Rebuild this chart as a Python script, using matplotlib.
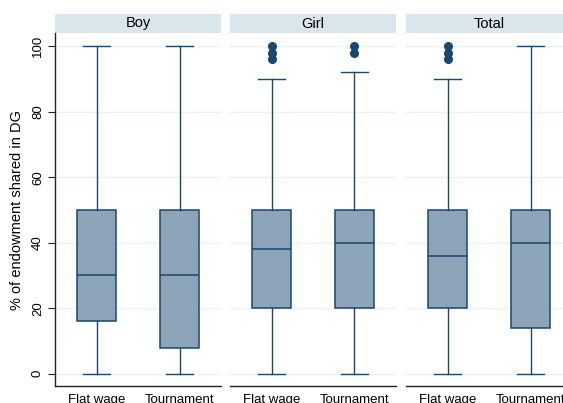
"""Boxplots of % of endowment shared in DG by gender and treatment."""

import matplotlib
matplotlib.use("Agg")
import matplotlib.pyplot as plt
from matplotlib.patches import Rectangle

plt.rcParams["font.family"] = ["Liberation Sans", "DejaVu Sans"]

panels = ["Boy", "Girl", "Total"]
treatments = ["Flat wage", "Tournament"]

# whisker low, q1, median, q3, whisker high, outliers (per panel, per treatment)
whislo = [[0, 0], [0, 0], [0, 0]]
q1 = [[16, 8], [20, 20], [20, 14]]
med = [[30, 30], [38, 40], [36, 40]]
q3 = [[50, 50], [50, 50], [50, 50]]
whishi = [[100, 100], [90, 92], [90, 100]]
fliers = [[[], []], [[96, 98, 100], [98, 100]], [[96, 98, 100], []]]

yticks = [0, 20, 40, 60, 80, 100]

navy = "#1a476f"
box_fill = "#8ca3b8"
strip_col = "#d9e6eb"
grid_col = "#eaf2f3"

fig = plt.figure(figsize=(5.63, 4.03), dpi=100)
W, H = 563.0, 403.0
lefts = [55, 230, 406]
pw = 166
top_px, bot_px = 33, 386

for i, name in enumerate(panels):
    ax = fig.add_axes([lefts[i] / W, 1 - bot_px / H, pw / W, (bot_px - top_px) / H])
    stats = []
    for j, t in enumerate(treatments):
        stats.append({
            "whislo": whislo[i][j], "q1": q1[i][j], "med": med[i][j],
            "q3": q3[i][j], "whishi": whishi[i][j], "fliers": fliers[i][j],
            "label": t,
        })
    ax.bxp(stats, positions=[1, 2], widths=0.48, patch_artist=True,
           boxprops=dict(facecolor=box_fill, edgecolor=navy, linewidth=1.1),
           medianprops=dict(color=navy, linewidth=1.1),
           whiskerprops=dict(color=navy, linewidth=1.0),
           capprops=dict(color=navy, linewidth=1.0),
           flierprops=dict(marker="o", markerfacecolor=navy, markeredgecolor=navy,
                           markersize=5.5),
           capwidths=0.33)
    ax.set_xlim(0.5, 2.5)
    ax.set_ylim(-3.75, 104)
    ax.set_yticks(yticks)
    ax.grid(axis="y", color=grid_col, linewidth=1.0)
    ax.set_axisbelow(True)
    ax.tick_params(axis="x", length=0, labelsize=9.5, pad=6, colors="black")
    for s in ["top", "right"]:
        ax.spines[s].set_visible(False)
    ax.spines["bottom"].set_color("#222222")
    ax.spines["bottom"].set_linewidth(1.0)
    if i == 0:
        ax.spines["left"].set_color("#222222")
        ax.spines["left"].set_linewidth(1.0)
        ax.tick_params(axis="y", length=5, labelsize=9.5, pad=3, color="#222222")
        for lbl in ax.get_yticklabels():
            lbl.set_rotation(90)
            lbl.set_va("center")
        ax.set_ylabel("% of endowment shared in DG", fontsize=10.5, labelpad=6)
    else:
        ax.spines["left"].set_visible(False)
        ax.tick_params(axis="y", length=0, labelleft=False)

    strip_h = 19 / (bot_px - top_px)
    ax.add_patch(Rectangle((0, 1.0), 1, strip_h, transform=ax.transAxes,
                           facecolor=strip_col, edgecolor="none", clip_on=False))
    ax.text(0.5, 1 + strip_h / 2, name, transform=ax.transAxes,
            ha="center", va="center", fontsize=10.5)

fig.savefig("out.png", dpi=100)
plt.close(fig)
